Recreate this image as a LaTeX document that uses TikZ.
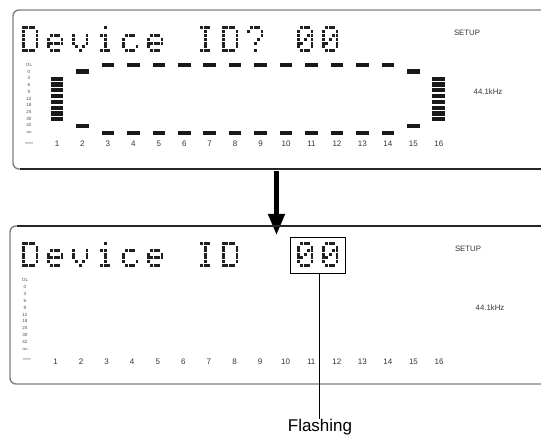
\documentclass[tikz,border=0pt]{standalone}
\usepackage{fontspec}
\setmainfont{Liberation Sans}
\usetikzlibrary{arrows.meta}
% dot-matrix glyphs (5x7)
\def\dmD{{1,1,1,1,0},{1,0,0,0,1},{1,0,0,0,1},{1,0,0,0,1},{1,0,0,0,1},{1,0,0,0,1},{1,1,1,1,0}}
\def\dme{{0,0,0,0,0},{0,0,0,0,0},{0,1,1,1,0},{1,0,0,0,1},{1,1,1,1,1},{1,0,0,0,0},{0,1,1,1,0}}
\def\dmv{{0,0,0,0,0},{0,0,0,0,0},{1,0,0,0,1},{1,0,0,0,1},{1,0,0,0,1},{0,1,0,1,0},{0,0,1,0,0}}
\def\dmi{{0,0,1,0,0},{0,0,0,0,0},{0,1,1,0,0},{0,0,1,0,0},{0,0,1,0,0},{0,0,1,0,0},{0,1,1,1,0}}
\def\dmc{{0,0,0,0,0},{0,0,0,0,0},{0,1,1,1,0},{1,0,0,0,0},{1,0,0,0,0},{1,0,0,0,1},{0,1,1,1,0}}
\def\dmI{{0,1,1,1,0},{0,0,1,0,0},{0,0,1,0,0},{0,0,1,0,0},{0,0,1,0,0},{0,0,1,0,0},{0,1,1,1,0}}
\def\dmQ{{0,1,1,1,0},{1,0,0,0,1},{0,0,0,0,1},{0,0,0,1,0},{0,0,1,0,0},{0,0,0,0,0},{0,0,1,0,0}}
\def\dmZ{{0,1,1,1,0},{1,0,0,0,1},{1,0,0,1,1},{1,0,1,0,1},{1,1,0,0,1},{1,0,0,0,1},{0,1,1,1,0}}
\newcommand\dmglyph[4]{% x, y, glyph letter, row pitch
  \expandafter\let\expandafter\dmpat\csname dm#3\endcsname
  \foreach \rw [count=\r from 0] in \dmpat {
    \foreach \bt [count=\c from 0] in \rw {
      \ifnum\bt=1 \fill[lcd] (#1+\c*3.4,#2+\r*#4) rectangle ++(2.7,3.0);\fi
    }
  }%
}
\newcommand\meterlabels[3]{% x, y0, step
  \foreach \t [count=\k from 0] in {OL,0,3,6,9,12,18,24,30,42,$\infty$}
    \node[meterlbl] (ml\k) at (#1,#2+\k*#3) {\t};
}
\begin{document}
\begin{tikzpicture}[x=1pt,y=-1pt,
  lcd/.style={fill=black!88},
  bar/.style={fill=black!90},
  meterlbl/.style={inner sep=0pt,font=\fontsize{4.6}{5}\selectfont,text=black!70},
  chnum/.style={inner sep=0pt,font=\fontsize{8}{9}\selectfont,text=black!80},
  small/.style={inner sep=0pt,font=\fontsize{7.8}{9}\selectfont,text=black!80},
  panelline/.style={draw=black!50,line width=1.4pt},
  darkline/.style={draw=black!85,line width=1.1pt}]
\useasboundingbox (0,0) rectangle (541,435);
\clip (0,0) rectangle (541,435);

% ---------- top panel ----------
\draw[panelline,rounded corners=6] (560,10) -| (13,169) -- (560,169);
\draw[darkline] (20,169) -- (560,169);
\foreach \ch/\i in {D/0,e/1,v/2,i/3,c/4,e/5,I/7,D/8,Q/9,Z/11,Z/12}
  {\dmglyph{22+\i*25}{26}{\ch}{3.9}}
\meterlabels{29}{65}{6.7}
\node[meterlbl,font=\fontsize{8}{9}\selectfont] (dashT) at (29,144) {—};
\foreach \n in {1,...,16}
  \node[chnum] (tn\n) at ({57+(\n-1)*25.45},144) {\n};
% bars
\foreach \n in {1,16}
  \foreach \b in {0,...,7}
    \fill[bar] ({57+(\n-1)*25.45-6.3},{76.7+\b*5.8}) rectangle ++(12.6,4.1);
\foreach \n in {2,15}{
  \fill[bar] ({57+(\n-1)*25.45-6.3},69.5) rectangle ++(12.6,4.3);
  \fill[bar] ({57+(\n-1)*25.45-6.3},124) rectangle ++(12.6,4.3);}
\foreach \n in {3,...,14}{
  \fill[bar] ({57+(\n-1)*25.45-6.3},62.7) rectangle ++(12.6,4.2);
  \fill[bar] ({57+(\n-1)*25.45-6.3},131) rectangle ++(12.6,4.2);}
\node[small] (setupT) at (467,33) {SETUP};
\node[small] (freqT) at (488,92) {44.1kHz};

% ---------- arrow ----------
\coordinate (arrS) at (276.5,171);
\coordinate (arrE) at (276.5,235);
\draw[line width=4.6pt,-{Triangle[length=21pt,width=16pt]}] (arrS) -- (arrE);

% ---------- bottom panel ----------
\draw[panelline,rounded corners=6] (560,226) -| (10,384) -- (560,384);
\draw[darkline] (17,226) -- (560,226);
\foreach \ch/\i in {D/0,e/1,v/2,i/3,c/4,e/5,I/7,D/8,Z/11,Z/12}
  {\dmglyph{22+\i*25}{242}{\ch}{3.6}}
\meterlabels{25}{280}{6.9}
\node[meterlbl,font=\fontsize{8}{9}\selectfont] (dashB) at (27,360) {—};
\foreach \n in {1,...,16}
  \node[chnum] (bn\n) at ({55.5+(\n-1)*25.57},362) {\n};
\node[small] (setupB) at (468,249) {SETUP};
\node[small] (freqB) at (490,308) {44.1kHz};

% flashing box and callout
\node[draw=black,line width=0.9pt,minimum width=55pt,minimum height=36pt,inner sep=0pt] (flash) at (317.5,255) {};
\node[inner sep=0pt,font=\fontsize{17}{18}\selectfont] (flashlbl) at (320,427) {Flashing};
\draw[line width=0.9pt] (flash.south -| 319,0) -- (flashlbl.north -| 319,0);
\end{tikzpicture}
\end{document}
